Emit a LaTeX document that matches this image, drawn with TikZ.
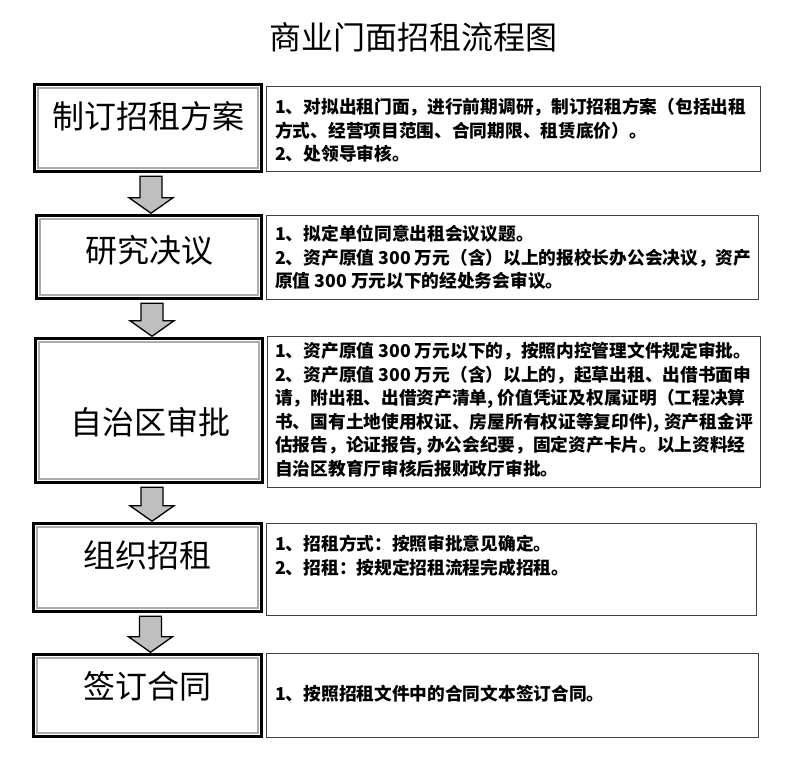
\documentclass[tikz,border=0pt]{standalone}
\usepackage{fontspec}
\usepackage{tikz}
\usetikzlibrary{calc}
\setmainfont{Noto Sans CJK SC}

\tikzset{
  mainbox/.style={draw, line width=3.5pt, fill=white, inner sep=0pt,
    path picture={\draw[gray!65, line width=1.2pt]
      ([shift={(3.5pt,-3.5pt)}]path picture bounding box.north west) rectangle
      ([shift={(-3.5pt,3.5pt)}]path picture bounding box.south east);}},
  notebox/.style={draw=black!75, line width=1pt, inner sep=0pt},
  steplabel/.style={font=\fontsize{32pt}{36pt}\selectfont, inner sep=0pt},
  notetext/.style={font=\fontsize{17.7pt}{23.5pt}\selectfont\bfseries, align=left,
    anchor=north west, inner sep=0pt},
  blockarrow/.style={draw=black, line width=1.3pt, fill=gray!50, line join=miter}
}

\begin{document}
\begin{tikzpicture}[x=1pt, y=-1pt]
  \useasboundingbox (0,0) rectangle (792,778);

  \node[font=\fontsize{32pt}{36pt}\selectfont, inner sep=0pt] (title) at (413,37.5) {商业门面招租流程图};

  % left column: steps
  \node[mainbox, minimum width=227pt, minimum height=87pt]  (plan)     at (148,128)   {};
  \node[mainbox, minimum width=225pt, minimum height=83pt]  (study)    at (149,257)   {};
  \node[mainbox, minimum width=227pt, minimum height=144pt] (approve)  at (149,410.5) {};
  \node[mainbox, minimum width=228pt, minimum height=88pt]  (organize) at (147.5,567.5) {};
  \node[mainbox, minimum width=228pt, minimum height=82pt]  (sign)     at (147.5,695.5) {};

  \node[steplabel] (planlabel)     at (148,116)   {制订招租方案};
  \node[steplabel] (studylabel)    at (149,250)   {研究决议};
  \node[steplabel] (approvelabel)  at (150,422)   {自治区审批};
  \node[steplabel] (organizelabel) at (147,555)   {组织招租};
  \node[steplabel] (signlabel)     at (147,686)   {签订合同};

  % right column: notes
  \node[notebox, minimum width=494pt, minimum height=85pt]  (plannote)     at (513.5,129)   {};
  \node[notebox, minimum width=492pt, minimum height=84pt]  (studynote)    at (512.5,257.5) {};
  \node[notebox, minimum width=493pt, minimum height=151pt] (approvenote)  at (514,412)     {};
  \node[notebox, minimum width=490pt, minimum height=92pt]  (organizenote) at (511.5,569.5) {};
  \node[notebox, minimum width=492pt, minimum height=84pt]  (signnote)     at (512.5,695.5) {};

  \node[notetext] (plantext) at (275,98) {1、对拟出租门面，进行前期调研，制订招租方案（包括出租\\
    方式、经营项目范围、合同期限、租赁底价）。\\
    2、处领导审核。};
  \node[notetext] (studytext) at (275,225) {1、拟定单位同意出租会议议题。\\
    2、资产原值 300 万元（含）以上的报校长办公会决议，资产\\
    原值 300 万元以下的经处务会审议。};
  \node[notetext] (approvetext) at (275,342) {1、资产原值 300 万元以下的，按照内控管理文件规定审批。\\
    2、资产原值 300 万元（含）以上的，起草出租、出借书面申\\
    请，附出租、出借资产清单, 价值凭证及权属证明（工程决算\\
    书、国有土地使用权证、房屋所有权证等复印件), 资产租金评\\
    估报告，论证报告, 办公会纪要，固定资产卡片。以上资料经\\
    自治区教育厅审核后报财政厅审批。};
  \node[notetext] (organizetext) at (275,535) {1、招租方式：按照审批意见确定。\\
    2、招租：按规定招租流程完成招租。};
  \node[notetext] (signtext) at (275,685) {1、按照招租文件中的合同文本签订合同。};

  % block arrows between steps
  \foreach \from/\to in {plan/study, study/approve, approve/organize, organize/sign}
    \draw[blockarrow] let \p1=(\from.south), \p2=(\to.north) in
      (\x1-8pt,\y1-3pt) -- (\x1+14pt,\y1-3pt) -- (\x1+14pt,\y2+16pt) -- (\x1+25pt,\y2+16pt)
      -- (\x1+3pt,\y2+0.5pt) -- (\x1-19pt,\y2+16pt) -- (\x1-8pt,\y2+16pt) -- cycle;
\end{tikzpicture}
\end{document}
